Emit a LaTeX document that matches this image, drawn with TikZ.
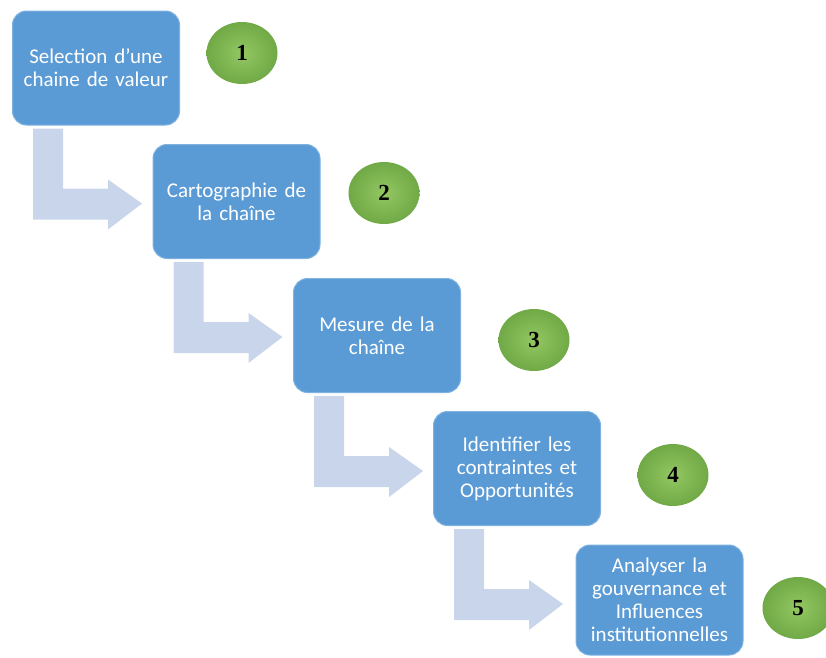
\documentclass[tikz,border=0pt]{standalone}
\usepackage{fontspec}
\setmainfont{Carlito}
\newfontfamily\numfont{Liberation Serif}
\usetikzlibrary{calc,shapes.geometric}
\definecolor{boxblue}{HTML}{5B9BD5}
\definecolor{boxedge}{HTML}{7FB2E0}
\definecolor{arrowc}{HTML}{C8D5EA}
\definecolor{greenL}{HTML}{93C762}
\definecolor{greenD}{HTML}{70A946}
\tikzset{
  stepbox/.style={rectangle, rounded corners=14pt, fill=boxblue, draw=boxedge, line width=1pt,
    minimum width=167pt, minimum height=114pt, text width=158pt, align=center,
    text=white, font=\fontsize{21}{23}\selectfont},
  numball/.style={ellipse, minimum width=71pt, minimum height=62pt, inner sep=0pt,
    shading=radial, inner color=greenL, outer color=greenD,
    font=\numfont\bfseries\fontsize{23}{25}\selectfont, text=black},
  bentarrow/.style={fill=arrowc, draw=none}
}
\begin{document}
\begin{tikzpicture}[x=1pt,y=-1pt]
\useasboundingbox (0,0) rectangle (826,657);
\node[stepbox] (b1) at (96,68) {Selection d’une\\chaine de valeur};
\node[stepbox] (b2) at (236.5,201.5) {Cartographie de\\la chaîne};
\node[stepbox] (b3) at (377,335.5) {Mesure de la\\chaîne};
\node[stepbox] (b4) at (517,468.5) {Identifier les\\contraintes et\\Opportunités};
\node[stepbox, minimum height=110pt] (b5) at (659.5,600) {Analyser la\\gouvernance et\\Influences\\institutionnelles};
\node[numball] (n1) at (242,53) {1};
\node[numball] (n2) at (384,193) {2};
\node[numball] (n3) at (534,340) {3};
\node[numball] (n4) at (673,475) {4};
\node[numball] (n5) at (798,608) {5};
\foreach \a/\b in {b1/b2,b2/b3,b3/b4,b4/b5}{
  \path[bentarrow]
    ($(\a.south west)+(21,3)$) -- ($(\a.south west)+(51,3)$)
    -- ($(\a.south west)+(51,63)$) -- ($(\a.south west)+(96,63)$)
    -- ($(\a.south west)+(96,54)$) -- ($(\a.south west)+(130,78)$)
    -- ($(\a.south west)+(96,104)$) -- ($(\a.south west)+(96,94)$)
    -- ($(\a.south west)+(21,94)$) -- cycle;
}
\end{tikzpicture}
\end{document}
